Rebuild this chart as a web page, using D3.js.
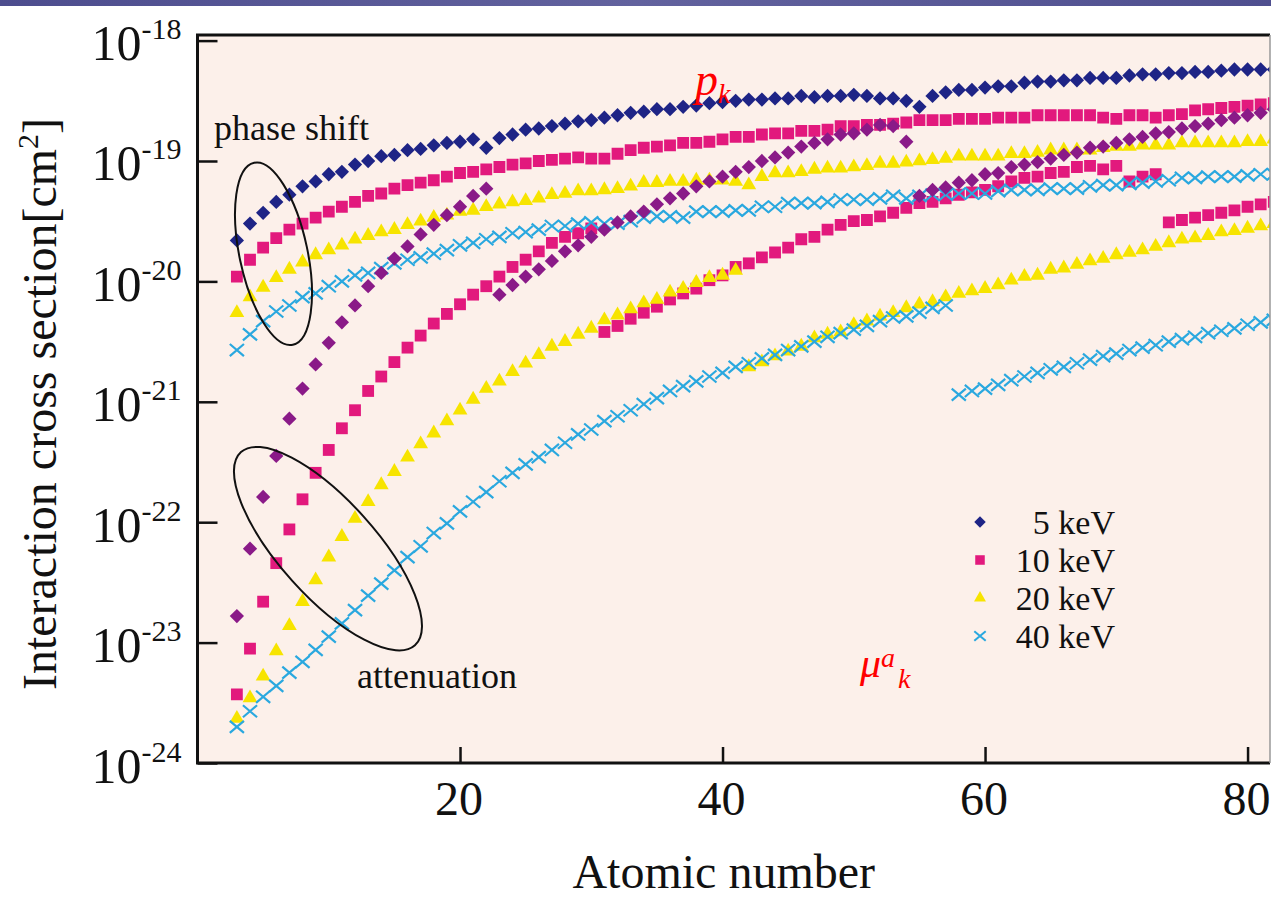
<!DOCTYPE html>
<html><head><meta charset="utf-8">
<script src="https://cdn.jsdelivr.net/npm/d3@7"></script>
<style>
html,body{margin:0;padding:0;background:#fff;}
svg{display:block;}
text{font-family:"Liberation Serif","Times New Roman",serif;}
</style></head><body>
<svg id="chart" width="1271" height="900"></svg>
<script>
// ---------------- DATA ----------------
// Atomic numbers (x)
const atomicNumber = [3,4,5,6,7,8,9,10,11,12,13,14,15,16,17,18,19,20,21,22,
 23,24,25,26,27,28,29,30,31,32,33,34,35,36,37,38,39,40,41,42,
 43,44,45,46,47,48,49,50,51,52,53,54,55,56,57,58,59,60,61,62,
 63,64,65,66,67,68,69,70,71,72,73,74,75,76,77,78,79,80,81,82];

// Cross sections, stored as log10(sigma / cm^2), one value per atomic number
// phase shift p_k
const pk5keV = [-19.66,-19.52,-19.43,-19.34,-19.28,-19.21,-19.17,-19.11,-19.09,-19.03,
 -19.00,-18.96,-18.95,-18.91,-18.90,-18.87,-18.85,-18.84,-18.82,-18.89,
 -18.81,-18.78,-18.74,-18.73,-18.71,-18.69,-18.67,-18.66,-18.64,-18.62,
 -18.60,-18.59,-18.57,-18.57,-18.55,-18.54,-18.52,-18.51,-18.50,-18.49,
 -18.49,-18.48,-18.48,-18.46,-18.47,-18.46,-18.46,-18.45,-18.46,-18.48,
 -18.48,-18.50,-18.55,-18.46,-18.43,-18.41,-18.41,-18.39,-18.38,-18.38,
 -18.35,-18.34,-18.34,-18.33,-18.33,-18.31,-18.31,-18.31,-18.29,-18.28,
 -18.28,-18.27,-18.27,-18.26,-18.26,-18.25,-18.24,-18.24,-18.24,-18.24];
const pk10keV = [-19.96,-19.82,-19.72,-19.64,-19.57,-19.52,-19.47,-19.42,-19.38,-19.34,
 -19.29,-19.27,-19.23,-19.20,-19.18,-19.16,-19.13,-19.10,-19.09,-19.07,
 -19.05,-19.03,-19.02,-19.00,-18.99,-18.98,-18.97,-18.98,-18.98,-18.94,
 -18.91,-18.89,-18.88,-18.87,-18.85,-18.85,-18.84,-18.82,-18.80,-18.80,
 -18.78,-18.77,-18.77,-18.75,-18.75,-18.74,-18.71,-18.71,-18.70,-18.70,
 -18.69,-18.68,-18.66,-18.66,-18.66,-18.65,-18.65,-18.65,-18.64,-18.64,
 -18.64,-18.62,-18.62,-18.62,-18.62,-18.62,-18.64,-18.65,-18.62,-18.62,
 -18.64,-18.62,-18.61,-18.58,-18.57,-18.56,-18.55,-18.54,-18.53,-18.52];
const pk20keV = [-20.26,-20.13,-20.05,-19.97,-19.90,-19.84,-19.78,-19.74,-19.70,-19.65,
 -19.62,-19.59,-19.57,-19.53,-19.50,-19.47,-19.45,-19.42,-19.41,-19.38,
 -19.36,-19.34,-19.33,-19.31,-19.28,-19.27,-19.25,-19.25,-19.24,-19.23,
 -19.21,-19.18,-19.18,-19.17,-19.17,-19.16,-19.16,-19.16,-19.17,-19.20,
 -19.13,-19.10,-19.10,-19.09,-19.07,-19.06,-19.06,-19.05,-19.04,-19.02,
 -19.02,-19.01,-19.00,-18.99,-18.98,-18.96,-18.96,-18.96,-18.96,-18.94,
 -18.94,-18.93,-18.91,-18.91,-18.91,-18.91,-18.89,-18.88,-18.88,-18.87,
 -18.87,-18.87,-18.85,-18.85,-18.85,-18.85,-18.85,-18.84,-18.84,-18.82];
const pk40keV = [-20.57,-20.44,-20.33,-20.25,-20.20,-20.13,-20.10,-20.04,-20.00,-19.95,
 -19.93,-19.89,-19.85,-19.82,-19.80,-19.77,-19.74,-19.70,-19.68,-19.65,
 -19.63,-19.60,-19.59,-19.57,-19.54,-19.54,-19.52,-19.51,-19.52,-19.52,
 -19.50,-19.47,-19.46,-19.46,-19.47,-19.42,-19.42,-19.42,-19.41,-19.41,
 -19.38,-19.38,-19.35,-19.35,-19.35,-19.34,-19.32,-19.32,-19.32,-19.31,
 -19.29,-19.31,-19.29,-19.28,-19.28,-19.27,-19.27,-19.27,-19.25,-19.24,
 -19.24,-19.24,-19.23,-19.23,-19.23,-19.21,-19.20,-19.20,-19.19,-19.18,
 -19.17,-19.16,-19.14,-19.14,-19.13,-19.13,-19.13,-19.12,-19.11,-19.11];
// attenuation mu^a_k
const mu5keV = [-22.78,-22.22,-21.79,-21.45,-21.14,-20.89,-20.69,-20.51,-20.34,-20.20,
 -20.04,-19.93,-19.81,-19.71,-19.61,-19.53,-19.45,-19.38,-19.29,-19.23,
 -20.11,-20.03,-19.96,-19.90,-19.83,-19.75,-19.70,-19.63,-19.57,-19.51,
 -19.46,-19.42,-19.36,-19.31,-19.27,-19.21,-19.17,-19.13,-19.09,-19.05,
 -19.00,-18.97,-18.93,-18.88,-18.85,-18.82,-18.78,-18.77,-18.74,-18.70,
 -18.71,-18.84,-19.29,-19.24,-19.22,-19.18,-19.16,-19.11,-19.10,-19.05,
 -19.03,-19.01,-18.98,-18.95,-18.93,-18.89,-18.88,-18.85,-18.82,-18.80,
 -18.77,-18.76,-18.73,-18.71,-18.69,-18.66,-18.64,-18.62,-18.60,-18.57];
const mu10keV = [-23.43,-23.05,-22.66,-22.34,-22.06,-21.81,-21.59,-21.40,-21.22,-21.07,
 -20.91,-20.79,-20.67,-20.55,-20.45,-20.35,-20.27,-20.19,-20.11,-20.04,
 -19.96,-19.88,-19.82,-19.75,-19.68,-19.63,-19.60,-19.56,-20.42,-20.37,
 -20.31,-20.26,-20.21,-20.15,-20.10,-20.06,-19.99,-19.95,-19.88,-19.85,
 -19.80,-19.76,-19.72,-19.65,-19.63,-19.57,-19.53,-19.50,-19.49,-19.46,
 -19.43,-19.39,-19.35,-19.34,-19.31,-19.28,-19.26,-19.24,-19.21,-19.17,
 -19.14,-19.13,-19.10,-19.09,-19.05,-19.04,-19.07,-19.04,-19.17,-19.13,
 -19.11,-19.51,-19.49,-19.47,-19.45,-19.43,-19.41,-19.38,-19.36,-19.34];
const mu20keV = [-23.63,-23.46,-23.28,-23.07,-22.86,-22.66,-22.48,-22.29,-22.12,-21.97,
 -21.83,-21.69,-21.58,-21.46,-21.35,-21.26,-21.16,-21.07,-20.98,-20.89,
 -20.83,-20.75,-20.68,-20.61,-20.54,-20.50,-20.44,-20.39,-20.32,-20.28,
 -20.23,-20.18,-20.15,-20.09,-20.06,-20.01,-19.97,-19.95,-19.91,-20.71,
 -20.67,-20.62,-20.58,-20.54,-20.47,-20.44,-20.42,-20.36,-20.33,-20.29,
 -20.26,-20.22,-20.19,-20.17,-20.13,-20.10,-20.08,-20.06,-20.03,-19.99,
 -19.96,-19.95,-19.90,-19.89,-19.86,-19.83,-19.81,-19.78,-19.76,-19.74,
 -19.71,-19.68,-19.65,-19.64,-19.62,-19.59,-19.58,-19.56,-19.54,-19.52];
const mu40keV = [-23.70,-23.57,-23.45,-23.36,-23.25,-23.16,-23.06,-22.95,-22.84,-22.73,
 -22.61,-22.51,-22.40,-22.29,-22.20,-22.09,-22.01,-21.91,-21.83,-21.75,
 -21.66,-21.59,-21.52,-21.46,-21.40,-21.34,-21.27,-21.23,-21.16,-21.12,
 -21.07,-21.02,-20.97,-20.91,-20.87,-20.83,-20.79,-20.76,-20.71,-20.68,
 -20.64,-20.61,-20.57,-20.54,-20.50,-20.46,-20.43,-20.40,-20.37,-20.33,
 -20.30,-20.29,-20.26,-20.22,-20.20,-20.94,-20.91,-20.89,-20.86,-20.82,
 -20.79,-20.76,-20.73,-20.71,-20.68,-20.65,-20.62,-20.60,-20.57,-20.55,
 -20.53,-20.50,-20.48,-20.46,-20.43,-20.41,-20.39,-20.36,-20.34,-20.32];

const legendLabels = ["5 keV","10 keV","20 keV","40 keV"];
const xTickValues = [20,40,60,80];
const yTickValues = [1e-24,1e-23,1e-22,1e-21,1e-20,1e-19,1e-18];
const yTickExponents = ["-24","-23","-22","-21","-20","-19","-18"];

// ---------------- STYLE ----------------
const C = {navy:"#1e2486", purple:"#8a1a88", pink:"#e2197d", yellow:"#f7e400", cyan:"#2aa8df"};

// custom symbol types
const symDiamond = {draw(ctx,size){const r=Math.sqrt(size/2);ctx.moveTo(0,-r);ctx.lineTo(r,0);ctx.lineTo(0,r);ctx.lineTo(-r,0);ctx.closePath();}};
const symCross = {draw(ctx,size){const r=Math.sqrt(size)/2;const ry=r*0.85;ctx.moveTo(-r,-ry);ctx.lineTo(r,ry);ctx.moveTo(-r,ry);ctx.lineTo(r,-ry);}};

const seriesDefs = [
  {vals: pk10keV, shape:"square", color:C.pink},
  {vals: mu10keV, shape:"square", color:C.pink},
  {vals: pk20keV, shape:"triangle", color:C.yellow},
  {vals: mu20keV, shape:"triangle", color:C.yellow},
  {vals: pk40keV, shape:"cross", color:C.cyan},
  {vals: mu40keV, shape:"cross", color:C.cyan},
  {vals: mu5keV, shape:"diamond", color:C.purple},
  {vals: pk5keV, shape:"diamond", color:C.navy}
];
const shapeSpec = {
  square:{type:d3.symbolSquare, size:140, stroke:false},
  triangle:{type:d3.symbolTriangle, size:95, stroke:false},
  cross:{type:symCross, size:200, stroke:true},
  diamond:{type:symDiamond, size:102, stroke:false}
};

// ---------------- LAYOUT ----------------
const svg = d3.select("#chart");
const plot = {left:197.5, right:1270, top:35, bottom:763};

const x = d3.scaleLinear().domain([0, 81.71]).range([plot.left, plot.right]);
const y = d3.scaleLog().domain([1e-24, Math.pow(10,-17.9535)]).range([plot.bottom, plot.top]);

// header band
const defs = svg.append("defs");
const grad = defs.append("linearGradient").attr("id","band").attr("x1",0).attr("x2",1).attr("y1",0).attr("y2",0);
grad.append("stop").attr("offset","0%").attr("stop-color","#4d4d8e");
grad.append("stop").attr("offset","50%").attr("stop-color","#62629e");
grad.append("stop").attr("offset","100%").attr("stop-color","#4f4f8f");
svg.append("rect").attr("x",0).attr("y",0).attr("width",1271).attr("height",6).attr("fill","url(#band)");

defs.append("clipPath").attr("id","clip").append("rect")
  .attr("x",plot.left).attr("y",plot.top).attr("width",plot.right-plot.left).attr("height",plot.bottom-plot.top);

// plot background
svg.append("rect").attr("x",plot.left).attr("y",plot.top)
  .attr("width",plot.right-plot.left).attr("height",plot.bottom-plot.top).attr("fill","#fcf0ea");

// data points
const marks = svg.append("g").attr("clip-path","url(#clip)");
seriesDefs.forEach(s=>{
  const spec = shapeSpec[s.shape];
  const gen = d3.symbol().type(spec.type).size(spec.size);
  const pts = atomicNumber.map((z,i)=>({z, v: Math.pow(10, s.vals[i])}));
  marks.append("g").selectAll("path").data(pts).join("path")
    .attr("d", gen)
    .attr("transform", d=>`translate(${x(d.z)},${y(d.v)})`)
    .attr("fill", spec.stroke ? "none" : s.color)
    .attr("stroke", spec.stroke ? s.color : "none")
    .attr("stroke-width", spec.stroke ? 2.2 : 0);
});

// axes
const yAxis = d3.axisLeft(y).tickValues(yTickValues).tickSizeInner(-20).tickSizeOuter(0).tickPadding(16).tickFormat(()=> "");
const gy = svg.append("g").attr("transform",`translate(${plot.left},0)`).call(yAxis);
gy.select(".domain").remove();
gy.selectAll(".tick line").attr("stroke","#111").attr("stroke-width",2.5);
gy.selectAll(".tick text").each(function(d){
  const t = d3.select(this);
  const idx = yTickValues.indexOf(d);
  t.text(null).attr("dy",null).attr("y",19).attr("fill","#111")
   .attr("font-family",'"Liberation Serif",serif').attr("font-size",50).attr("text-anchor","end");
  t.append("tspan").text("10");
  t.append("tspan").attr("font-size",30).attr("dy",-21).text(yTickExponents[idx]);
});

const xAxis = d3.axisBottom(x).tickValues(xTickValues).tickSizeInner(-16).tickSizeOuter(0).tickPadding(18).tickFormat(d=>String(d));
const gx = svg.append("g").attr("transform",`translate(0,${plot.bottom})`).call(xAxis);
gx.select(".domain").remove();
gx.selectAll(".tick line").attr("stroke","#111").attr("stroke-width",2.5);
gx.selectAll(".tick text").attr("fill","#111").attr("font-family",'"Liberation Serif",serif')
  .attr("font-size",48).attr("dx",-1.5);

// frame
const frame = svg.append("g").attr("fill","none");
frame.append("path").attr("d",`M${plot.right},${plot.top}H${plot.left}V${plot.bottom}H${plot.right}`)
  .attr("stroke","#111").attr("stroke-width",3);
frame.append("line").attr("x1",plot.right).attr("x2",plot.right).attr("y1",plot.top).attr("y2",plot.bottom)
  .attr("stroke","#999").attr("stroke-width",1.5);

// axis titles
svg.append("text").attr("x",(plot.left+plot.right)/2 - 10).attr("y",888).attr("text-anchor","middle")
  .attr("font-size",48).attr("fill","#111").text("Atomic number");
svg.append("text").attr("transform","translate(56,404) rotate(-90)").attr("text-anchor","middle")
  .attr("font-size",48).attr("fill","#111")
  .call(t=>{t.append("tspan").text("Interaction cross section[cm");
            t.append("tspan").attr("font-size",30).attr("dy",-18).text("2");
            t.append("tspan").attr("dy",18).text("]");});

// ellipses (annotations)
svg.append("ellipse").attr("cx",x(5.79)).attr("cy",y(Math.pow(10,-19.77))).attr("rx",93).attr("ry",34)
  .attr("transform",`rotate(78 ${x(5.79)} ${y(Math.pow(10,-19.77))})`)
  .attr("fill","none").attr("stroke","#111").attr("stroke-width",2);
svg.append("ellipse").attr("cx",x(9.94)).attr("cy",y(Math.pow(10,-22.22))).attr("rx",130).attr("ry",48)
  .attr("transform",`rotate(48 ${x(9.94)} ${y(Math.pow(10,-22.22))})`)
  .attr("fill","none").attr("stroke","#111").attr("stroke-width",2);

svg.append("text").attr("x",214).attr("y",140).attr("font-size",36).attr("fill","#111").text("phase shift");
svg.append("text").attr("x",357).attr("y",688).attr("font-size",36).attr("fill","#111").text("attenuation");

// red labels
svg.append("text").attr("x",695).attr("y",95).attr("fill","#ff0000").attr("font-style","italic").attr("font-size",46)
  .call(t=>{t.append("tspan").text("p");
            t.append("tspan").attr("font-size",28).attr("dy",8).text("k");});
svg.append("text").attr("x",860).attr("y",677).attr("fill","#ff0000").attr("font-style","italic").attr("font-size",42)
  .call(t=>{t.append("tspan").text("μ");
            t.append("tspan").attr("font-size",28).attr("dy",-10).text("a");
            t.append("tspan").attr("font-size",28).attr("dy",21).attr("dx",3).text("k");});

// legend
const legendDefs = [
  {shape:"diamond", color:C.navy},
  {shape:"square", color:C.pink},
  {shape:"triangle", color:C.yellow},
  {shape:"cross", color:C.cyan}
];
const legendY = [522,560,598,636];
const lg = svg.append("g");
legendDefs.forEach((l,i)=>{
  const spec = shapeSpec[l.shape];
  const gen = d3.symbol().type(spec.type).size(spec.size*0.65);
  lg.append("path").attr("d",gen).attr("transform",`translate(980,${legendY[i]})`)
    .attr("fill", spec.stroke ? "none" : l.color)
    .attr("stroke", spec.stroke ? l.color : "none").attr("stroke-width", spec.stroke?2:0);
  lg.append("text").attr("x",1115).attr("y",legendY[i]+12).attr("text-anchor","end")
    .attr("font-size",34).attr("fill","#111").text(legendLabels[i]);
});
</script>
</body></html>
